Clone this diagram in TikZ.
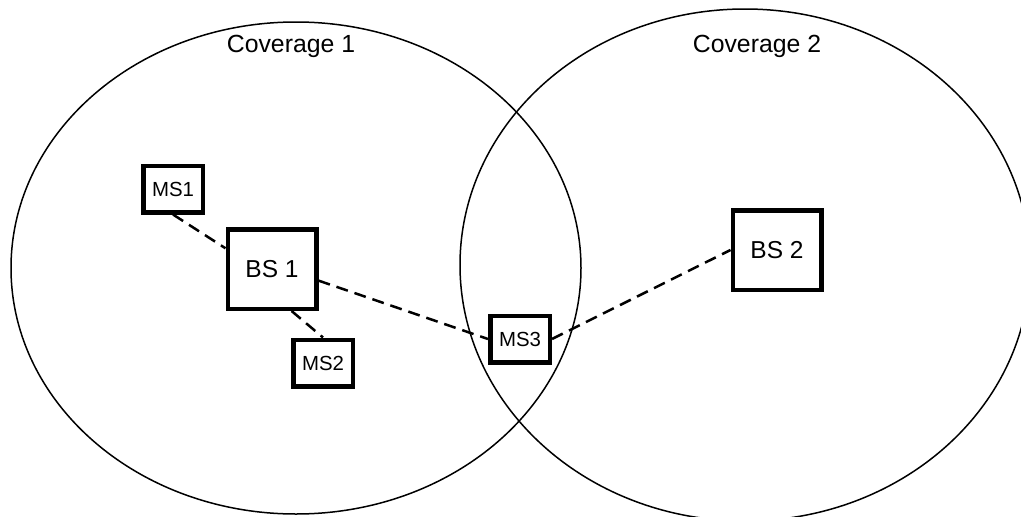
\documentclass[tikz,border=0pt]{standalone}
\usepackage{fontspec}
\setmainfont{Liberation Sans}
\begin{document}
\begin{tikzpicture}[x=1pt,y=-1pt,
  cov/.style={line width=1.5pt},
  bigbox/.style={draw,line width=4.5pt,inner sep=0pt,minimum width=88.5pt,minimum height=79.5pt,font=\fontsize{24.5}{29}\selectfont},
  smallbox/.style={draw,line width=4.5pt,inner sep=0pt,minimum width=59.5pt,minimum height=46.5pt,font=\fontsize{20.4}{24}\selectfont},
  covlabel/.style={inner sep=0pt,font=\fontsize{24.8}{29}\selectfont},
  link/.style={line width=2.5pt,dash pattern=on 12pt off 7pt}]
\useasboundingbox (0,0) rectangle (1021,517);
\clip (0,0) rectangle (1021,517);
\draw[cov] (296,268) ellipse [x radius=285pt, y radius=246pt];
\draw[cov] (745,265) ellipse [x radius=285pt, y radius=256pt];
\node[covlabel] (c1) at (291,46) {Coverage 1};
\node[covlabel] (c2) at (757,46) {Coverage 2};
\node[bigbox] (BS1) at (272,269) {BS 1};
\node[bigbox] (BS2) at (777,250) {BS 2};
\node[smallbox] (MS1) at (173,189) {MS1};
\node[smallbox] (MS2) at (323,363) {MS2};
\node[smallbox] (MS3) at (520,339) {MS3};
\draw[link] (MS1.south) -- (BS1.156);
\draw[link] (BS1.-65) -- (MS2.north);
\draw[link] (BS1.-14) -- (MS3.west);
\draw[link] (MS3.east) -- (BS2.west);
\end{tikzpicture}
\end{document}
